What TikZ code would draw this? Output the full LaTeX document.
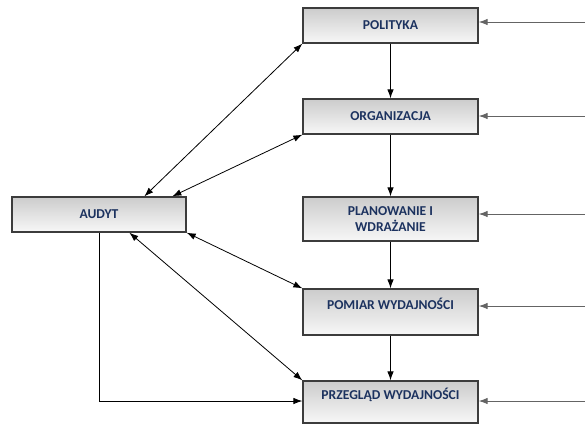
\documentclass[tikz,border=0pt]{standalone}
\usepackage{fontspec}
\setmainfont{Carlito}
\usetikzlibrary{arrows.meta,calc}
\definecolor{txtnavy}{RGB}{28,50,95}
\definecolor{boxedge}{RGB}{60,60,60}
\definecolor{feedline}{RGB}{100,100,100}
\tikzset{
  stagebox/.style={draw=boxedge, line width=1.3pt, top color=gray!40, bottom color=gray!6,
    minimum width=175pt, align=center, inner sep=2pt,
    font=\fontsize{13.6}{16.5}\selectfont\bfseries, text=txtnavy},
  conn/.style={line width=0.8pt, -{Latex[length=9pt,width=6.5pt]}},
  biconn/.style={line width=0.8pt, {Latex[length=9pt,width=6.5pt]}-{Latex[length=9pt,width=6.5pt]}},
  feed/.style={draw=feedline, line width=1pt, -{Latex[length=9pt,width=6.5pt]}}
}
\begin{document}
\begin{tikzpicture}[x=1pt,y=-1pt]
\useasboundingbox (0,0) rectangle (585,424);
\node[stagebox, minimum height=35pt] (pol) at (390.5,25.5) {POLITYKA};
\node[stagebox, minimum height=35pt] (org) at (390.5,116.5) {ORGANIZACJA};
\node[stagebox, minimum height=44pt] (plan) at (390.5,219) {PLANOWANIE I\\WDRAŻANIE};
\node[stagebox, minimum height=46pt] (pom) at (390.5,312) {POMIAR WYDAJNOŚCI\\\mbox{}};
\node[stagebox, minimum height=42pt] (prz) at (390.5,402) {PRZEGLĄD WYDAJNOŚCI\\\mbox{}};
\node[stagebox, minimum width=174pt, minimum height=35pt] (aud) at (99,214.5) {AUDYT};

\coordinate (in1) at (585,22);
\coordinate (in2) at (585,116);
\coordinate (in3) at (585,214);
\coordinate (in4) at (585,306);
\coordinate (in5) at (585,401);

\draw[conn] (pol) -- (org);
\draw[conn] (org) -- (plan);
\draw[conn] (plan) -- (pom);
\draw[conn] (pom) -- (prz);

\draw[feed] (in1) -- (pol.east |- in1);
\draw[feed] (in2) -- (org.east |- in2);
\draw[feed] (in3) -- (plan.east |- in3);
\draw[feed] (in4) -- (pom.east |- in4);
\draw[feed] (in5) -- (prz.east |- in5);

\draw[biconn] ([xshift=133pt]aud.north west) -- (pol.south west);
\draw[biconn] ([xshift=161pt]aud.north west) -- (org.south west);
\draw[biconn] (aud.south east) -- (pom.north west);
\draw[biconn] ([xshift=118pt]aud.south west) -- (prz.north west);
\draw[conn] (aud.south) |- (prz.west |- in5);
\end{tikzpicture}
\end{document}
